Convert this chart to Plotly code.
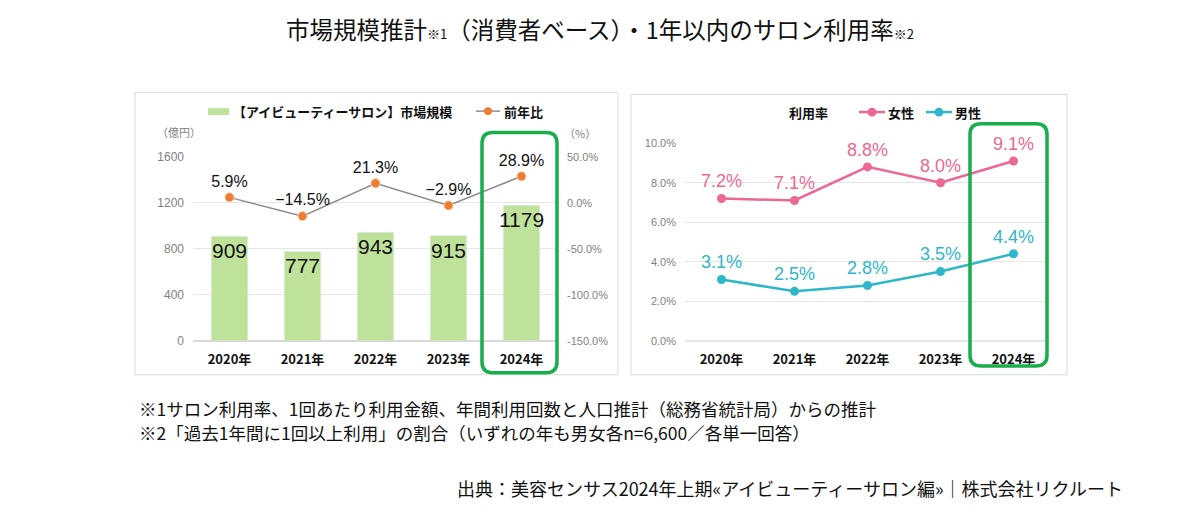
import plotly.graph_objects as go

years = ["2020年", "2021年", "2022年", "2023年", "2024年"]
market_size = [909, 777, 943, 915, 1179]
yoy = [5.9, -14.5, 21.3, -2.9, 28.9]
female_rate = [7.2, 7.1, 8.8, 8.0, 9.1]
male_rate = [3.1, 2.5, 2.8, 3.5, 4.4]
left_ticks = [0, 400, 800, 1200, 1600]
right_ticks = [-150, -100, -50, 0, 50]
rate_ticks = [0, 2, 4, 6, 8, 10]

W, H = 1200, 516
FONT = "Noto Sans CJK JP"

def px(x):
    return x / W

def py(y):
    return 1 - y / H

fig = go.Figure()

fig.add_trace(go.Bar(
    x=years, y=market_size, xaxis="x", yaxis="y",
    marker=dict(color="#bfe29b"), width=0.5,
    text=[str(v) for v in market_size], textposition="inside", textangle=0,
    insidetextanchor="end", constraintext="none",
    textfont=dict(size=21, color="#111111", family="Arial"),
    name="【アイビューティーサロン】市場規模", showlegend=False,
))
fig.add_trace(go.Scatter(
    x=years, y=yoy, xaxis="x", yaxis="y2", mode="lines+markers+text",
    line=dict(color="#8c8c8c", width=1.5),
    marker=dict(color="#ed7d31", size=9, line=dict(color="#f6c7a5", width=1)),
    text=[f"{v:.1f}%".replace("-", "−") for v in yoy], textposition="top center",
    textfont=dict(size=16, color="#111111", family="Arial"),
    name="前年比", showlegend=False, cliponaxis=False,
))
fig.add_trace(go.Scatter(
    x=years, y=female_rate, xaxis="x2", yaxis="y3", mode="lines+markers+text",
    line=dict(color="#ec6794", width=2.5),
    marker=dict(color="#ec6794", size=9),
    text=[f"{v:.1f}%" for v in female_rate], textposition="top center",
    textfont=dict(size=18, color="#ec6794", family="Arial"),
    name="女性", showlegend=False, cliponaxis=False,
))
fig.add_trace(go.Scatter(
    x=years, y=male_rate, xaxis="x2", yaxis="y3", mode="lines+markers+text",
    line=dict(color="#2db7c9", width=2.5),
    marker=dict(color="#2db7c9", size=9),
    text=[f"{v:.1f}%" for v in male_rate], textposition="top center",
    textfont=dict(size=18, color="#2db7c9", family="Arial"),
    name="男性", showlegend=False, cliponaxis=False,
))

tickfont_x = dict(size=13, color="#111111", family=FONT)
bold_years = [f"<b>{y}</b>" for y in years]
grid = "#e6e6e6"

fig.update_layout(
    width=W, height=H, margin=dict(l=0, r=0, t=0, b=0),
    paper_bgcolor="white", plot_bgcolor="white",
    font=dict(family=FONT),
    xaxis=dict(domain=[px(193), px(558)], type="category", showgrid=False,
               tickvals=years, ticktext=bold_years,
               tickfont=tickfont_x, ticks="", showline=False, anchor="y",
               range=[-0.5, 4.5], ticklabelstandoff=9),
    yaxis=dict(domain=[py(343), py(154)], range=[0, 1600], tickvals=left_ticks,
               ticktext=[str(t) for t in left_ticks],
               showgrid=True, gridcolor=grid, zeroline=True, zerolinecolor="#d9d9d9",
               tickfont=dict(size=12, color="#7f7f7f", family="Arial"), ticks="",
               ticklabelstandoff=8, anchor="x"),
    yaxis2=dict(domain=[py(343), py(154)], range=[-150, 50], overlaying="y", side="right",
                tickvals=right_ticks, ticktext=[f"{t:.1f}%" for t in right_ticks],
                showgrid=False, zeroline=False,
                tickfont=dict(size=11, color="#7f7f7f", family="Arial"), ticks="",
                ticklabelstandoff=8, anchor="x"),
    xaxis2=dict(domain=[px(685), px(1050)], type="category", showgrid=False,
                tickvals=years, ticktext=bold_years,
                tickfont=tickfont_x, ticks="", anchor="y3", range=[-0.5, 4.5],
                ticklabelstandoff=9),
    yaxis3=dict(domain=[py(343), py(140)], range=[0, 10], tickvals=rate_ticks,
                ticktext=[f"{t:.1f}%" for t in rate_ticks],
                showgrid=True, gridcolor=grid, zeroline=True, zerolinecolor="#e6e6e6",
                tickfont=dict(size=11, color="#7f7f7f", family="Arial"), ticks="",
                ticklabelstandoff=8, anchor="x2"),
    bargap=0.5,
)

shapes = []
# panel borders
for (x0, y0, x1, y1) in [(135, 88, 618, 378), (631, 90, 1067, 378)]:
    shapes.append(dict(type="rect", xref="paper", yref="paper",
                       x0=px(x0), x1=px(x1), y0=py(y1), y1=py(y0),
                       line=dict(color="#d9d9d9", width=1), layer="below"))

def rounded(x0, y0, x1, y1, r):
    return (f"M {px(x0 + r)},{py(y0)} L {px(x1 - r)},{py(y0)} "
            f"Q {px(x1)},{py(y0)} {px(x1)},{py(y0 + r)} "
            f"L {px(x1)},{py(y1 - r)} Q {px(x1)},{py(y1)} {px(x1 - r)},{py(y1)} "
            f"L {px(x0 + r)},{py(y1)} Q {px(x0)},{py(y1)} {px(x0)},{py(y1 - r)} "
            f"L {px(x0)},{py(y0 + r)} Q {px(x0)},{py(y0)} {px(x0 + r)},{py(y0)} Z")

for (x0, y0, x1, y1) in [(482, 129, 557, 376), (970, 120, 1047, 369)]:
    shapes.append(dict(type="path", xref="paper", yref="paper",
                       path=rounded(x0, y0, x1, y1, 11),
                       line=dict(color="#1aad4c", width=3.5), layer="above"))

# legend symbols
shapes.append(dict(type="rect", xref="paper", yref="paper",
                   x0=px(208), x1=px(229), y0=py(111), y1=py(104),
                   fillcolor="#bfe29b", line=dict(width=0)))
shapes.append(dict(type="line", xref="paper", yref="paper",
                   x0=px(476), x1=px(500), y0=py(107), y1=py(107),
                   line=dict(color="#8c8c8c", width=1.5)))
shapes.append(dict(type="circle", xref="paper", yref="paper",
                   x0=px(484), x1=px(492), y0=py(111), y1=py(103),
                   fillcolor="#ed7d31", line=dict(width=0)))
for (xc, col) in [(872, "#ec6794"), (939, "#2db7c9")]:
    shapes.append(dict(type="line", xref="paper", yref="paper",
                       x0=px(xc - 13), x1=px(xc + 13), y0=py(108), y1=py(108),
                       line=dict(color=col, width=2.5)))
    shapes.append(dict(type="circle", xref="paper", yref="paper",
                       x0=px(xc - 4.5), x1=px(xc + 4.5), y0=py(112.5), y1=py(103.5),
                       fillcolor=col, line=dict(width=0)))
fig.update_layout(shapes=shapes)

ann = []
def text(x, y, s, size, color="#111111", anchor="left", bold=False, family=FONT):
    ann.append(dict(x=px(x), y=py(y), xref="paper", yref="paper", text=(f"<b>{s}</b>" if bold else s),
                    showarrow=False, xanchor=anchor, yanchor="middle",
                    font=dict(size=size, color=color, family=family)))

text(600, 23, "市場規模推計<span style='font-size:13px'>※1</span>（消費者ベース）・1年以内のサロン利用率<span style='font-size:13px'>※2</span>",
     23.5, "#111111", "center")
text(231, 107, "【アイビューティーサロン】市場規模", 13, bold=True)
text(502, 107, "前年比", 13, bold=True)
text(155, 128, "（億円）", 11, "#7f7f7f")
text(562, 130, "（%）", 11, "#7f7f7f")
text(808, 108, "利用率", 13, bold=True, anchor="center")
text(886, 108, "女性", 13, bold=True)
text(953, 108, "男性", 13, bold=True)
text(137, 413, "※1サロン利用率、1回あたり利用金額、年間利用回数と人口推計（総務省統計局）からの推計", 17.5)
text(137, 437, "※2「過去1年間に1回以上利用」の割合（いずれの年も男女各n=6,600／各単一回答）", 17.5)
text(1125, 494, "出典：美容センサス2024年上期«アイビューティーサロン編»｜株式会社リクルート", 18, anchor="right")
fig.update_layout(annotations=ann)

fig.write_html("out.html")
